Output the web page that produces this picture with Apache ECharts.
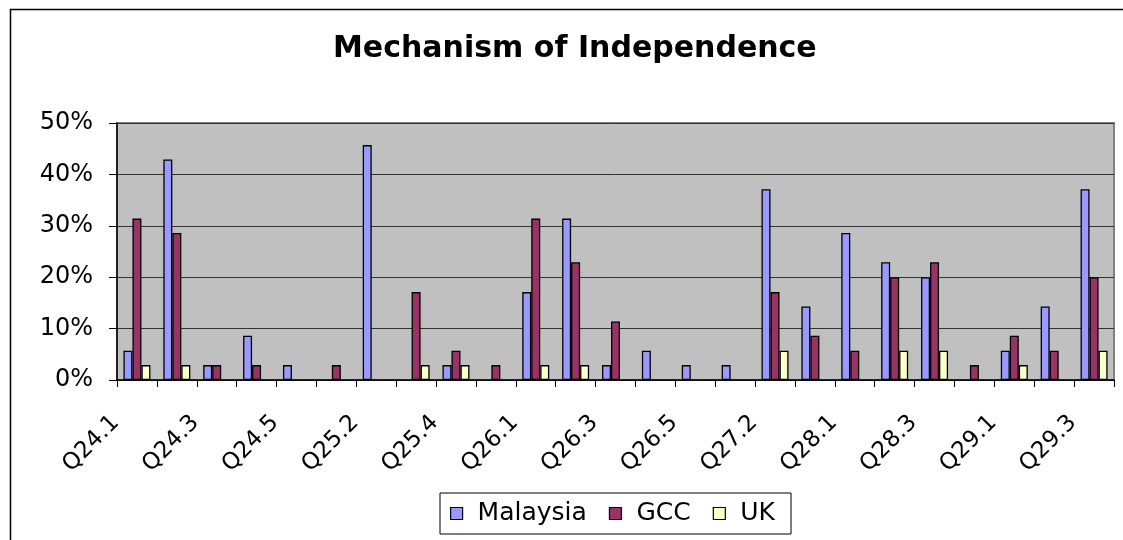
<!DOCTYPE html>
<html lang="en">
<head>
    <meta charset="UTF-8">
    <title>Mechanism of Independence</title>
    <script type="text/javascript" src="https://cdn.jsdelivr.net/npm/echarts@6/dist/echarts.min.js"></script>
    <style>
        html, body { margin: 0; padding: 0; background: #fff; overflow: hidden; }
    </style>
</head>
<body>
    <div id="main" style="width: 1123px;height:540px;"></div>
    <script type="text/javascript">
        // question codes on the x axis
        var questions = ['Q24.1', 'Q24.2', 'Q24.3', 'Q24.4', 'Q24.5', 'Q25.1', 'Q25.2', 'Q25.3', 'Q25.4', 'Q25.5',
            'Q26.1', 'Q26.2', 'Q26.3', 'Q26.4', 'Q26.5', 'Q27.1', 'Q27.2', 'Q27.3', 'Q28.1', 'Q28.2',
            'Q28.3', 'Q28.4', 'Q29.1', 'Q29.2', 'Q29.3'];

        // percentages per group
        var malaysia = [5.7, 42.9, 2.9, 8.6, 2.9, 0, 45.7, 0, 2.9, 0,
            17.1, 31.4, 2.9, 5.7, 2.9, 2.9, 37.1, 14.3, 28.6, 22.9,
            20, 0, 5.7, 14.3, 37.1];
        var gcc = [31.4, 28.6, 2.9, 2.9, 0, 2.9, 0, 17.1, 5.7, 2.9,
            31.4, 22.9, 11.4, 0, 0, 0, 17.1, 8.6, 5.7, 20,
            22.9, 2.9, 8.6, 5.7, 20];
        var uk = [2.9, 2.9, 0, 0, 0, 0, 0, 2.9, 2.9, 0,
            2.9, 2.9, 0, 0, 0, 0, 5.7, 0, 0, 5.7,
            5.7, 0, 2.9, 0, 5.7];

        var yTicks = [0, 10, 20, 30, 40, 50];

        var myChart = echarts.init(document.getElementById('main'));

        // zero values draw nothing
        function bars(arr) {
            return arr.map(function (v) { return v === 0 ? '-' : v; });
        }

        var barStyle = { borderColor: '#000', borderWidth: 1.3 };

        var option = {
            backgroundColor: '#fff',
            textStyle: { fontFamily: 'DejaVu Sans' },
            animation: false,
            graphic: [{
                // outer frame, only left and top edges fall inside the picture
                type: 'polyline',
                shape: { points: [[10.5, 560], [10.5, 9.5], [1140, 9.5]] },
                style: { fill: null, stroke: '#000', lineWidth: 1.5 },
                silent: true
            }],
            title: {
                text: 'Mechanism of Independence',
                left: 328,
                top: 29,
                textStyle: { fontFamily: 'DejaVu Sans', fontWeight: 'bold', fontSize: 30, color: '#000' }
            },
            legend: {
                data: ['Malaysia', 'GCC', 'UK'],
                left: 440,
                top: 493,
                padding: [8, 16, 8, 10],
                itemWidth: 12,
                itemHeight: 12,
                itemGap: 22,
                borderColor: '#000',
                borderWidth: 1,
                icon: 'rect',
                itemStyle: { borderColor: '#000', borderWidth: 1.2 },
                textStyle: { fontSize: 25, color: '#000', padding: [0, 0, 0, 10] }
            },
            grid: {
                left: 117,
                top: 123,
                right: 9,
                bottom: 160,
                show: true,
                backgroundColor: '#C0C0C0',
                borderColor: '#808080',
                borderWidth: 2
            },
            xAxis: {
                type: 'category',
                data: questions,
                axisLine: { lineStyle: { color: '#000', width: 1.5 } },
                axisTick: { show: true, interval: 0, length: 7, lineStyle: { color: '#000' } },
                axisLabel: {
                    interval: 1,
                    rotate: 45,
                    margin: 18,
                    fontSize: 23,
                    color: '#000',
                    padding: [0, 30, 0, 0]
                }
            },
            yAxis: {
                type: 'value',
                min: yTicks[0],
                max: yTicks[yTicks.length - 1],
                interval: 10,
                axisLine: { show: true, lineStyle: { color: '#000', width: 1.5 } },
                axisTick: { show: true, length: 8, lineStyle: { color: '#000' } },
                axisLabel: { formatter: '{value}%', fontSize: 24, color: '#000', margin: 24 },
                splitLine: { lineStyle: { color: '#333', width: 1 } }
            },
            series: [{
                name: 'Malaysia',
                type: 'bar',
                data: bars(malaysia),
                barWidth: 9,
                barGap: '0%',
                itemStyle: Object.assign({ color: '#9999FF' }, barStyle)
            }, {
                name: 'GCC',
                type: 'bar',
                data: bars(gcc),
                barWidth: 9,
                barGap: '0%',
                itemStyle: Object.assign({ color: '#993366' }, barStyle)
            }, {
                name: 'UK',
                type: 'bar',
                data: bars(uk),
                barWidth: 9,
                barGap: '0%',
                itemStyle: Object.assign({ color: '#FFFFCC' }, barStyle)
            }]
        };

        myChart.setOption(option);
    </script>
</body>
</html>
